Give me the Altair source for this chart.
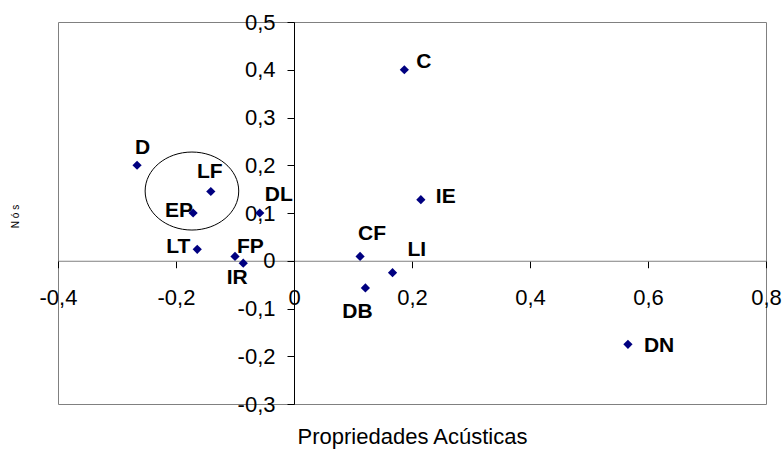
import altair as alt
import pandas as pd

# Positions of each item on the two dimensions
names = ["D", "LF", "EP", "DL", "LT", "FP", "IR", "CF", "DB", "LI", "C", "IE", "DN"]
x_vals = [-0.266, -0.141, -0.171, -0.058, -0.164, -0.100, -0.086, 0.112, 0.121, 0.167, 0.187, 0.215, 0.566]
y_vals = [0.200, 0.145, 0.100, 0.100, 0.024, 0.009, -0.005, 0.009, -0.057, -0.025, 0.400, 0.128, -0.175]

x_ticks = [-0.4, -0.2, 0.0, 0.2, 0.4, 0.6, 0.8]
y_ticks = [-0.3, -0.2, -0.1, 0.0, 0.1, 0.2, 0.3, 0.4, 0.5]

# Centre of the ellipse that groups LF and EP
ellipse_x = [-0.173]
ellipse_y = [0.146]

df = pd.DataFrame({"x": x_vals, "y": y_vals, "nome": names})
df_ellipse = pd.DataFrame({"x": ellipse_x, "y": ellipse_y})

W, H = 708, 382
X_DOMAIN = [-0.4, 0.8]
Y_DOMAIN = [-0.3, 0.5]
FONT = "Liberation Sans"

# axes cross at the origin
x_axis_offset = -H * (0 - Y_DOMAIN[0]) / (Y_DOMAIN[1] - Y_DOMAIN[0])
y_axis_offset = -W * (0 - X_DOMAIN[0]) / (X_DOMAIN[1] - X_DOMAIN[0])

comma_fmt = (
    "datum.value == 0 ? '0' : (datum.value < 0 ? '-' : '') + "
    "replace(format(abs(datum.value), '.1f'), '.', ',')"
)

x_enc = alt.X(
    "x:Q",
    scale=alt.Scale(domain=X_DOMAIN, nice=False, zero=False),
    axis=alt.Axis(
        values=x_ticks,
        labelExpr=comma_fmt,
        offset=x_axis_offset,
        grid=False,
        domainColor="#808080",
        tickColor="#000000",
        tickSize=7,
        labelPadding=20,
        labelFont=FONT,
        labelFontSize=22,
        labelColor="#000000",
        labelAlign="center",
        labelBaseline="top",
        labelFlush=False,
        labelOverlap=False,
        title="Propriedades Acústicas",
        titleFont=FONT,
        titleFontSize=22,
        titleFontWeight="normal",
        titleColor="#000000",
        titleY=183,
        titleBaseline="alphabetic",
    ),
)
y_enc = alt.Y(
    "y:Q",
    scale=alt.Scale(domain=Y_DOMAIN, nice=False, zero=False),
    axis=alt.Axis(
        values=y_ticks,
        labelExpr=comma_fmt,
        offset=y_axis_offset,
        grid=False,
        domainColor="#000000",
        tickColor="#000000",
        tickSize=7,
        labelPadding=12,
        labelFont=FONT,
        labelFontSize=22,
        labelColor="#000000",
        labelAlign="right",
        labelBaseline="middle",
        labelFlush=False,
        labelOverlap=False,
        title="N ó s",
        titleFont=FONT,
        titleFontSize=10,
        titleFontWeight="normal",
        titleColor="#000000",
        titleAngle=270,
        titleX=-279,
        titleY=194,
        titleAlign="center",
        titleBaseline="middle",
    ),
)

base = alt.Chart(df).encode(x=x_enc, y=y_enc)

points = base.mark_point(shape="diamond", filled=True, size=85, color="#000080", opacity=1)

ellipse = alt.Chart(df_ellipse).mark_point(
    shape="M-1.2,0A1.2,1,0,1,0,1.2,0A1.2,1,0,1,0,-1.2,0Z",
    filled=False,
    size=6084,
    stroke="#000000",
    strokeWidth=1,
    opacity=1,
).encode(x=x_enc, y=y_enc)

# label placement around each marker: (align, dx, dy)
placements = {
    "D": ("left", -2, -17),
    "LF": ("center", -1, -20),
    "EP": ("right", 0, -2),
    "DL": ("left", 5, -18),
    "LT": ("right", -7, -2),
    "FP": ("left", 2, -9),
    "IR": ("center", -6, 15),
    "CF": ("left", -2, -22),
    "DB": ("center", -8, 24),
    "LI": ("left", 15, -23),
    "C": ("left", 12, -8),
    "IE": ("left", 15, -3),
    "DN": ("left", 16, 2),
}

label_layers = []
for nome, (align, dx, dy) in placements.items():
    label_layers.append(
        base.transform_filter(alt.datum.nome == nome)
        .mark_text(
            align=align,
            baseline="middle",
            dx=dx,
            dy=dy,
            font=FONT,
            fontSize=21,
            fontWeight="bold",
            color="#000000",
        )
        .encode(text="nome:N")
    )

chart = (
    alt.layer(ellipse, points, *label_layers)
    .properties(
        width=W,
        height=H,
        padding={"left": 58, "top": 22, "right": 18, "bottom": 50},
        autosize=alt.AutoSizeParams(type="none"),
        background="#ffffff",
    )
    .configure_view(stroke="#808080", strokeWidth=1)
)

chart.save("out.html", embed_options={"renderer": "svg", "actions": False})
